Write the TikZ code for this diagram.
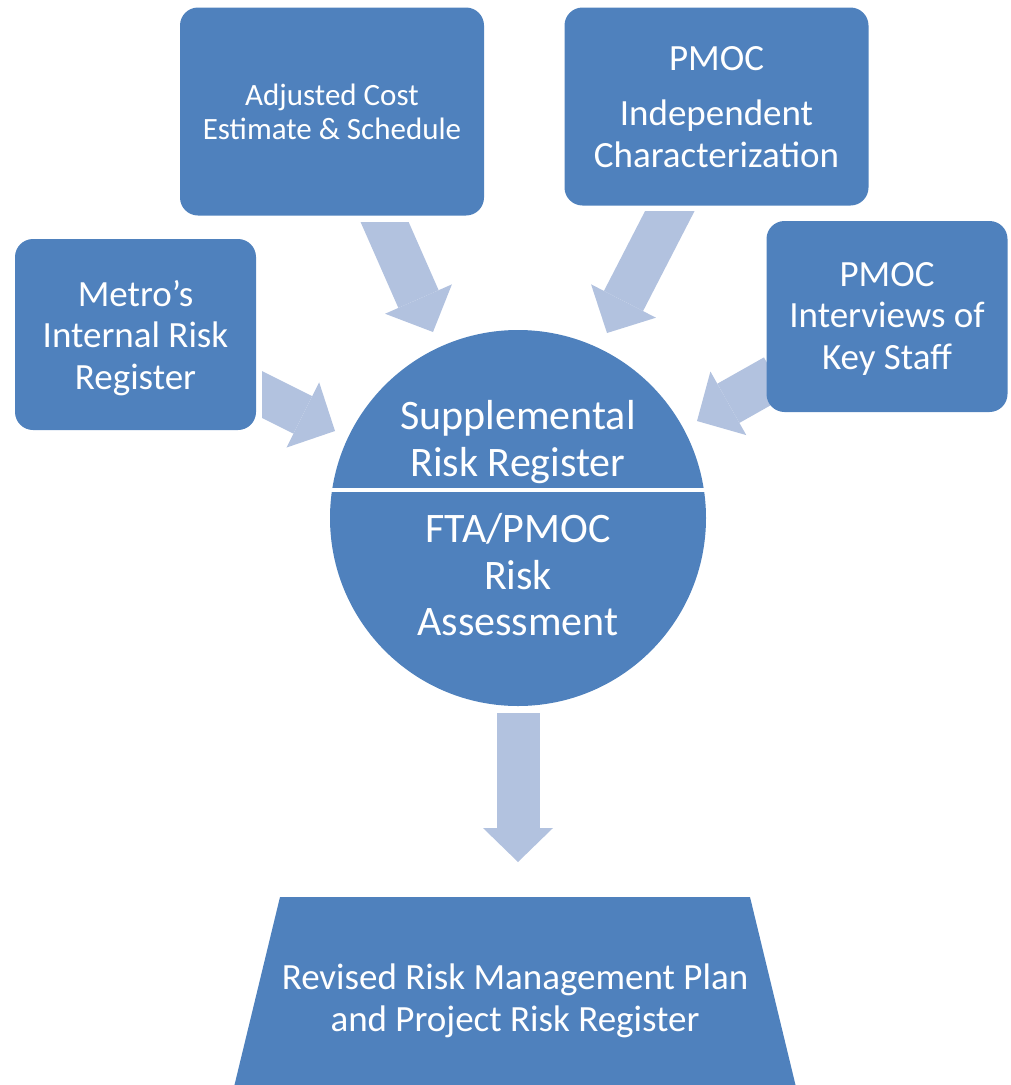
\documentclass[tikz,border=0pt]{standalone}
\usepackage{fontspec}
\setmainfont{Carlito}
\usetikzlibrary{arrows.meta,backgrounds}
\definecolor{boxc}{RGB}{79,129,189}
\definecolor{arrowc}{RGB}{178,194,223}
\tikzset{
  boxnode/.style={fill=boxc, draw=none, rounded corners=18pt, text=white, align=center, inner sep=0pt},
  txt/.style={text=white, align=center, inner sep=0pt},
  bigarrow/.style={draw=arrowc, line width=#1, -{Triangle[length=36pt,width=73pt,line width=0pt]}},
  bigarrow/.default=44pt
}
\begin{document}
\begin{tikzpicture}[x=1pt,y=-1pt]
\useasboundingbox (0,0) rectangle (1011,1085);
\clip (0,0) rectangle (1011,1085);
% boxes
\node[boxnode, minimum width=304pt, minimum height=208pt] (adj) at (332,111.5) {};
\node[txt, font=\fontsize{31}{34.5}\selectfont] (adjt) at (332,112) {Adjusted Cost\\Estimate \& Schedule};
\node[boxnode, minimum width=304pt, minimum height=198pt] (ind) at (716.5,106.5) {};
\node[txt, font=\fontsize{37}{41.5}\selectfont] (indt) at (716.5,107) {PMOC\\[14pt]Independent\\Characterization};
\node[boxnode, minimum width=241pt, minimum height=191pt] (met) at (135.5,334.5) {};
\node[txt, font=\fontsize{37}{41.5}\selectfont] (mett) at (135.5,338) {Metro’s\\Internal Risk\\Register};
\node[boxnode, minimum width=241pt, minimum height=191pt] (int) at (887,316.5) {};
\node[txt, font=\fontsize{37}{41.5}\selectfont] (intt) at (887,318.5) {PMOC\\Interviews of\\Key Staff};
% circle
\node[circle, fill=boxc, minimum size=376pt, inner sep=0pt] (c) at (518,518) {};
\draw[white, line width=4pt] (c.west |- 0,490) -- (c.east |- 0,490);
\node[txt, font=\fontsize{42}{46.5}\selectfont] (sup) at (518,442) {Supplemental\\Risk Register};
\node[txt, font=\fontsize{42}{46.5}\selectfont] (fta) at (518,575) {FTA/PMOC\\Risk\\Assessment};
% bottom trapezoid
\fill[boxc] (280,897) -- (750,897) -- (804,1120) -- (226,1120) -- cycle;
\node[txt, font=\fontsize{37}{42}\selectfont] (plan) at (515,1001) {Revised Risk Management Plan\\and Project Risk Register};
% arrows
\coordinate (a1s) at (376.6,203.8); \coordinate (a1e) at (433,332);
\coordinate (a2s) at (675.7,199.6); \coordinate (a2e) at (607,333);
\coordinate (a3s) at (245.6,386.3); \coordinate (a3e) at (335,431);
\coordinate (a4s) at (775,377); \coordinate (a4e) at (697,421);
\coordinate (a5s) at (518,713); \coordinate (a5e) at (518,862);
\begin{pgfonlayer}{background}
\begin{scope}
\clip (0,222) rectangle (1011,1085);
\draw[bigarrow] (a1s) -- (a1e);
\end{scope}
\begin{scope}
\clip (0,211) rectangle (1011,1085);
\draw[bigarrow] (a2s) -- (a2e);
\end{scope}
\begin{scope}
\clip (262,0) rectangle (1011,1085);
\draw[bigarrow=42pt] (a3s) -- (a3e);
\end{scope}
\draw[bigarrow=45pt] (a4s) -- (a4e);
\draw[draw=arrowc, line width=43pt, -{Triangle[length=34pt,width=70pt,line width=0pt]}] (a5s) -- (a5e);
\end{pgfonlayer}
\end{tikzpicture}
\end{document}
